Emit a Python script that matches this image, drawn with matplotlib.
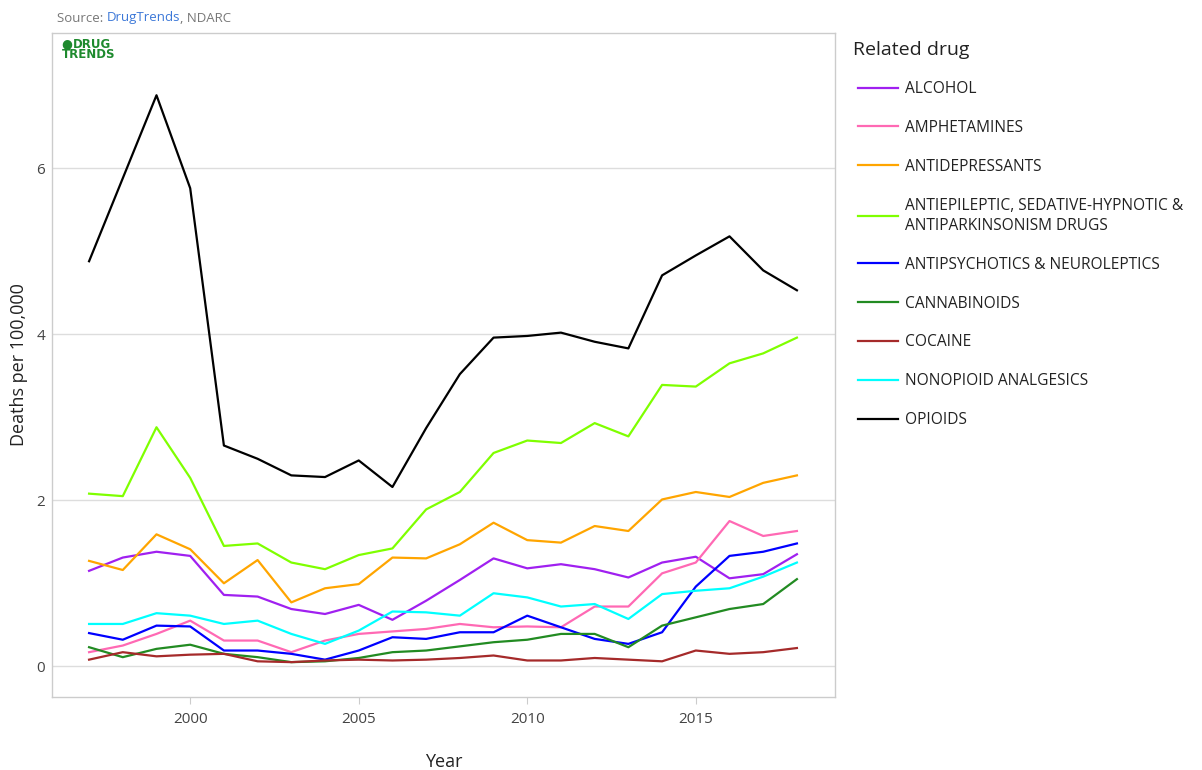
import matplotlib
matplotlib.use("Agg")
import matplotlib.pyplot as plt

plt.rcParams['font.family'] = ['Open Sans', 'DejaVu Sans']

years = list(range(1997, 2019))

drugs = ["ALCOHOL", "AMPHETAMINES", "ANTIDEPRESSANTS",
         "ANTIEPILEPTIC, SEDATIVE-HYPNOTIC &\nANTIPARKINSONISM DRUGS",
         "ANTIPSYCHOTICS & NEUROLEPTICS", "CANNABINOIDS", "COCAINE",
         "NONOPIOID ANALGESICS", "OPIOIDS"]

alcohol = [1.15, 1.31, 1.38, 1.33, 0.86, 0.84, 0.69, 0.63, 0.74, 0.56, 0.79,
           1.04, 1.30, 1.18, 1.23, 1.17, 1.07, 1.25, 1.32, 1.06, 1.11, 1.35]
amphetamines = [0.17, 0.25, 0.39, 0.55, 0.31, 0.31, 0.17, 0.31, 0.39, 0.42, 0.45,
                0.51, 0.47, 0.48, 0.47, 0.72, 0.72, 1.12, 1.25, 1.75, 1.57, 1.63]
antidepressants = [1.27, 1.16, 1.59, 1.41, 1.00, 1.28, 0.77, 0.94, 0.99, 1.31, 1.30,
                   1.47, 1.73, 1.52, 1.49, 1.69, 1.63, 2.01, 2.10, 2.04, 2.21, 2.30]
antiepileptic = [2.08, 2.05, 2.88, 2.27, 1.45, 1.48, 1.25, 1.17, 1.34, 1.42, 1.89,
                 2.10, 2.57, 2.72, 2.69, 2.93, 2.77, 3.39, 3.37, 3.65, 3.77, 3.96]
antipsychotics = [0.40, 0.32, 0.49, 0.48, 0.19, 0.19, 0.15, 0.08, 0.19, 0.35, 0.33,
                  0.41, 0.41, 0.61, 0.47, 0.33, 0.27, 0.41, 0.96, 1.33, 1.38, 1.48]
cannabinoids = [0.23, 0.11, 0.21, 0.26, 0.15, 0.11, 0.05, 0.06, 0.10, 0.17, 0.19,
                0.24, 0.29, 0.32, 0.39, 0.39, 0.23, 0.49, 0.59, 0.69, 0.75, 1.05]
cocaine = [0.08, 0.17, 0.12, 0.14, 0.15, 0.06, 0.05, 0.07, 0.08, 0.07, 0.08,
           0.10, 0.13, 0.07, 0.07, 0.10, 0.08, 0.06, 0.19, 0.15, 0.17, 0.22]
nonopioid = [0.51, 0.51, 0.64, 0.61, 0.51, 0.55, 0.39, 0.27, 0.43, 0.66, 0.65,
             0.61, 0.88, 0.83, 0.72, 0.75, 0.57, 0.87, 0.91, 0.94, 1.08, 1.25]
opioids = [4.88, 5.88, 6.88, 5.76, 2.66, 2.50, 2.30, 2.28, 2.48, 2.16, 2.87,
           3.52, 3.96, 3.98, 4.02, 3.91, 3.83, 4.71, 4.95, 5.18, 4.77, 4.53]

series = [alcohol, amphetamines, antidepressants, antiepileptic, antipsychotics,
          cannabinoids, cocaine, nonopioid, opioids]
colors = ["#A020F0", "#FF69B4", "#FFA500", "#7FFF00", "#0000FF",
          "#228B22", "#A52A2A", "#00FFFF", "#000000"]

fig = plt.figure(figsize=(12.02, 7.70), dpi=100)
ax = fig.add_axes([52 / 1202, 1 - 697 / 770, (835 - 52) / 1202, (697 - 33) / 770])

for vals, name, c in zip(series, drugs, colors):
    ax.plot(years, vals, color=c, lw=1.6, label=name)

ax.set_xlim(1995.9, 2019.13)
ax.set_ylim(-0.37, 7.63)
ax.set_xticks([2000, 2005, 2010, 2015])
ax.set_yticks([0, 2, 4, 6])
ax.grid(axis='y', color='#dddddd', lw=1)
ax.set_axisbelow(True)
for s in ax.spines.values():
    s.set_color('#cccccc')
    s.set_linewidth(1)
ax.tick_params(axis='x', length=5, color='#cccccc', labelsize=11, labelcolor='#444444', pad=6)
ax.tick_params(axis='y', length=0, labelsize=11, labelcolor='#444444', pad=5)
ax.set_xlabel("Year", fontsize=13, color='#222222', va='center')
ax.set_ylabel("Deaths per 100,000", fontsize=13, color='#222222', va='center')
ax.xaxis.set_label_coords(0.5, (697 - 762) / 664)
ax.yaxis.set_label_coords((19 - 52) / 783, 0.5)

# legend title drawn on its own so the entries can sit slightly indented
fig.text(853 / 1202, 1 - 50 / 770, "Related drug", fontsize=14, color='#222222', va='center')
leg = ax.legend(loc='upper left', bbox_to_anchor=(858 / 1202, 1 - 81 / 770),
                bbox_transform=fig.transFigure, frameon=False, fontsize=11.2,
                handlelength=2.55, handletextpad=0.5, labelspacing=1.47,
                borderpad=0, borderaxespad=0)
for t in leg.get_texts():
    t.set_color('#222222')
    t.set_linespacing(1.35)

src = fig.text(57 / 1202, 1 - 18 / 770, "Source: ", fontsize=9.5, color='#777777', va='center')
src2 = ax.annotate("DrugTrends", xy=(1, 0), xycoords=src, fontsize=9.5, color='#3c78d8',
                   va='bottom', annotation_clip=False)
ax.annotate(", NDARC", xy=(1, 0), xycoords=src2, fontsize=9.5, color='#777777',
            va='bottom', annotation_clip=False)

fig.text(61 / 1202, 1 - 44 / 770, "\u25cf", fontsize=9, color='#1e8a2e', va='center')
fig.text(73 / 1202, 1 - 44 / 770, "DRUG", fontsize=8.5, color='#1e8a2e',
         fontweight='heavy', va='center', family='DejaVu Sans')
fig.text(62 / 1202, 1 - 55 / 770, "TRENDS", fontsize=8.5, color='#1e8a2e',
         fontweight='heavy', va='center', family='DejaVu Sans')

fig.savefig("out.png", dpi=100)
